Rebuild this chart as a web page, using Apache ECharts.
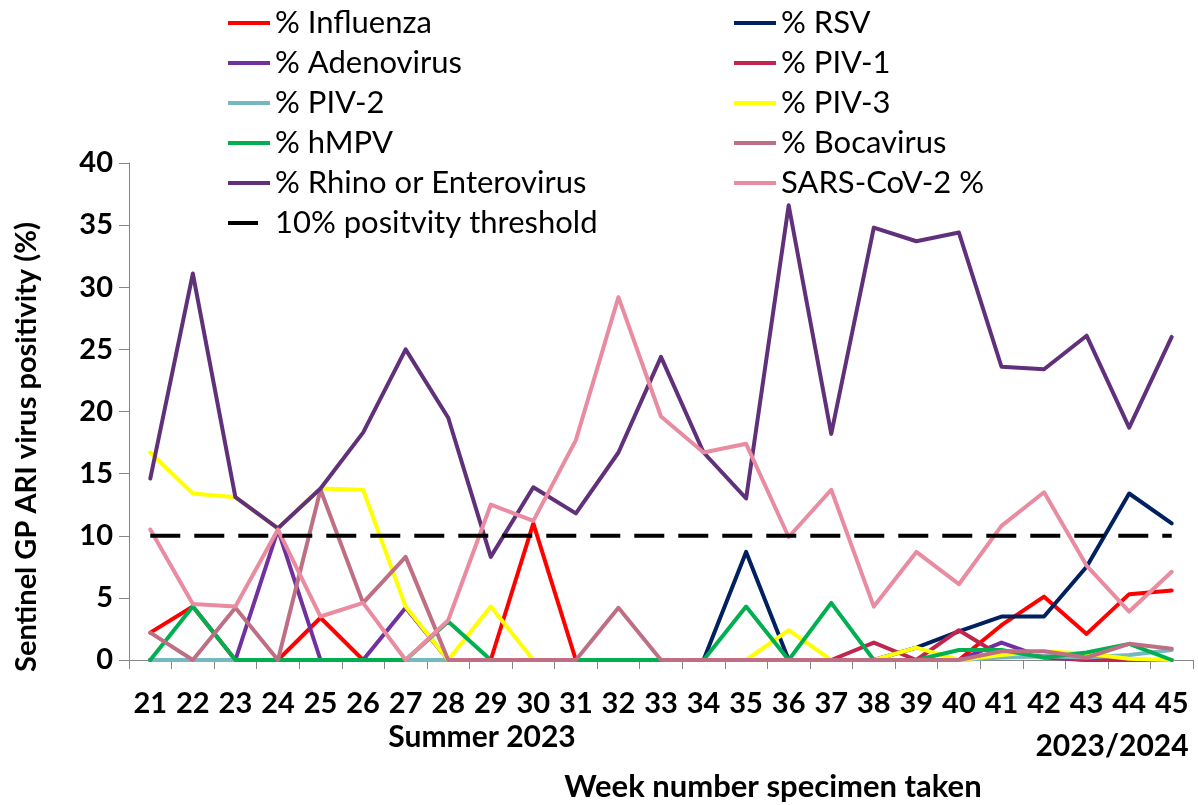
<!DOCTYPE html>
<html>
<head>
<meta charset="utf-8">
<title>Sentinel GP ARI virus positivity</title>
<script src="https://cdn.jsdelivr.net/npm/echarts/dist/echarts.min.js"></script>
<style>
    html, body { margin: 0; padding: 0; background: #fff; }
    #chart { width: 1198px; height: 805px; }
</style>
</head>
<body>
<div id="chart"></div>
<script>
var weeks = ["21", "22", "23", "24", "25", "26", "27", "28", "29", "30", "31", "32", "33",
    "34", "35", "36", "37", "38", "39", "40", "41", "42", "43", "44", "45"];

// % positivity per week
var influenza = [2.2, 4.3, 0, 0, 3.4, 0, 0, 0, 0, 11.0, 0, 0, 0, 0, 0, 0, 0, 0, 0, 0, 2.8, 5.1, 2.1, 5.3, 5.6];
var rsv = [0, 0, 0, 0, 0, 0, 0, 0, 0, 0, 0, 0, 0, 0, 8.7, 0, 0, 0, 1.0, 2.3, 3.5, 3.5, 7.5, 13.4, 11.0];
var adenovirus = [0, 0, 0, 10.5, 0, 0, 4.2, 0, 0, 0, 0, 0, 0, 0, 0, 0, 0, 0, 0, 0, 1.4, 0.2, 0, 0, 0];
var piv1 = [0, 0, 0, 0, 0, 0, 0, 0, 0, 0, 0, 0, 0, 0, 0, 0, 0, 1.4, 0, 2.4, 0.3, 0.3, 0, 0, 0];
var piv2 = [0, 0, 0, 0, 0, 0, 0, 0, 0, 0, 0, 0, 0, 0, 0, 0, 0, 0, 0, 0, 0.2, 0.3, 0.2, 0.4, 0.8];
var piv3 = [16.7, 13.4, 13.1, 10.6, 13.8, 13.7, 4.3, 0, 4.3, 0, 0, 0, 0, 0, 0, 2.4, 0, 0, 1.0, 0, 0.4, 0.7, 0.5, 0.1, 0];
var hmpv = [0, 4.3, 0, 0, 0, 0, 0, 3.1, 0, 0, 0, 0, 0, 0, 4.3, 0, 4.6, 0, 0, 0.8, 0.8, 0.2, 0.6, 1.3, 0];
var bocavirus = [2.2, 0, 4.2, 0, 13.7, 4.6, 8.3, 0, 0, 0, 0, 4.2, 0, 0, 0, 0, 0, 0, 0, 0, 0.7, 0.7, 0.2, 1.3, 0.9];
var rhino = [14.6, 31.1, 13.1, 10.6, 13.8, 18.3, 25.0, 19.5, 8.3, 13.9, 11.8, 16.7, 24.4, 16.7, 13.0,
    36.6, 18.2, 34.8, 33.7, 34.4, 23.6, 23.4, 26.1, 18.7, 26.0];
var sarsCov2 = [10.5, 4.5, 4.3, 10.5, 3.5, 4.6, 0, 3.2, 12.5, 11.2, 17.7, 29.2, 19.6, 16.7, 17.4,
    9.9, 13.7, 4.3, 8.7, 6.1, 10.8, 13.5, 7.6, 3.9, 7.1];
var threshold = weeks.map(function () { return 10; });

var yTicks = [0, 5, 10, 15, 20, 25, 30, 35, 40];

var fontName = "Lato, 'Open Sans', sans-serif";

// draw order matters: later series sit on top (same as the original)
var lines = [
    {name: "% Influenza", data: influenza, color: "#ff0000"},
    {name: "% RSV", data: rsv, color: "#002060"},
    {name: "% Adenovirus", data: adenovirus, color: "#7030a0"},
    {name: "% PIV-1", data: piv1, color: "#c0264d"},
    {name: "% PIV-2", data: piv2, color: "#75b8c0"},
    {name: "% PIV-3", data: piv3, color: "#ffff00"},
    {name: "% hMPV", data: hmpv, color: "#00b050"},
    {name: "% Bocavirus", data: bocavirus, color: "#bf6f84"},
    {name: "% Rhino or Enterovirus", data: rhino, color: "#61307a"},
    {name: "SARS-CoV-2 %", data: sarsCov2, color: "#e98ba1"}
];

var series = lines.map(function (line) {
    return {
        name: line.name,
        type: "line",
        data: line.data,
        symbol: "none",
        color: line.color,
        lineStyle: {
            color: line.color,
            width: 4,
            cap: "round",
            join: "round"
        }
    };
});

series.push({
    name: "10% positvity threshold",
    type: "line",
    data: threshold,
    symbol: "none",
    color: "#000",
    lineStyle: {
        color: "#000",
        width: 4,
        type: [30, 14]
    }
});

var legendStyle = {
    orient: "vertical",
    top: 2,
    itemWidth: 42,
    itemHeight: 4,
    itemGap: 8,
    icon: "rect",
    selectedMode: false,
    textStyle: {
        color: "#000",
        fontSize: 31,
        lineHeight: 32,
        fontFamily: fontName
    }
};

var leftLegend = echarts.util.merge({
    left: 223,
    data: ["% Influenza", "% Adenovirus", "% PIV-2", "% hMPV", "% Rhino or Enterovirus",
        {name: "10% positvity threshold", icon: "path://M0,0H30V4H0ZM42,0L42,4Z"}]
}, legendStyle);

var rightLegend = echarts.util.merge({
    left: 729,
    data: ["% RSV", "% PIV-1", "% PIV-3", "% Bocavirus", "SARS-CoV-2 %"]
}, legendStyle);

var boldText = function (text, x, y, size, rotation) {
    return {
        type: "text",
        x: x,
        y: y,
        rotation: rotation || 0,
        style: {
            text: text,
            fill: "#000",
            font: "bold " + size + "px " + fontName,
            textAlign: "center",
            textVerticalAlign: "middle"
        }
    };
};

var chart = echarts.init(document.getElementById("chart"));
chart.setOption({
    animation: false,
    textStyle: {fontFamily: fontName},
    grid: {left: 129, right: 5, top: 163, bottom: 145},
    legend: [leftLegend, rightLegend],
    xAxis: {
        type: "category",
        data: weeks,
        boundaryGap: true,
        axisLine: {lineStyle: {color: "#868686", width: 1}},
        axisTick: {show: true, length: 9, lineStyle: {color: "#868686"}},
        axisLabel: {
            color: "#000",
            fontSize: 29,
            fontWeight: "bold",
            margin: 29,
            interval: 0
        },
        splitLine: {show: false}
    },
    yAxis: {
        type: "value",
        min: yTicks[0],
        max: yTicks[yTicks.length - 1],
        interval: 5,
        axisLine: {show: true, lineStyle: {color: "#868686", width: 1}},
        axisTick: {show: true, length: 10, lineStyle: {color: "#868686"}},
        axisLabel: {
            color: "#000",
            fontSize: 29,
            fontWeight: "bold",
            margin: 16
        },
        splitLine: {show: false}
    },
    graphic: [
        boldText("Sentinel GP ARI virus positivity (%)", 27, 447, 29, Math.PI / 2),
        boldText("Summer 2023", 482, 737, 30),
        boldText("2023/2024", 1112, 746, 30),
        boldText("Week number specimen taken", 773, 787, 31)
    ],
    series: series
});
</script>
</body>
</html>
